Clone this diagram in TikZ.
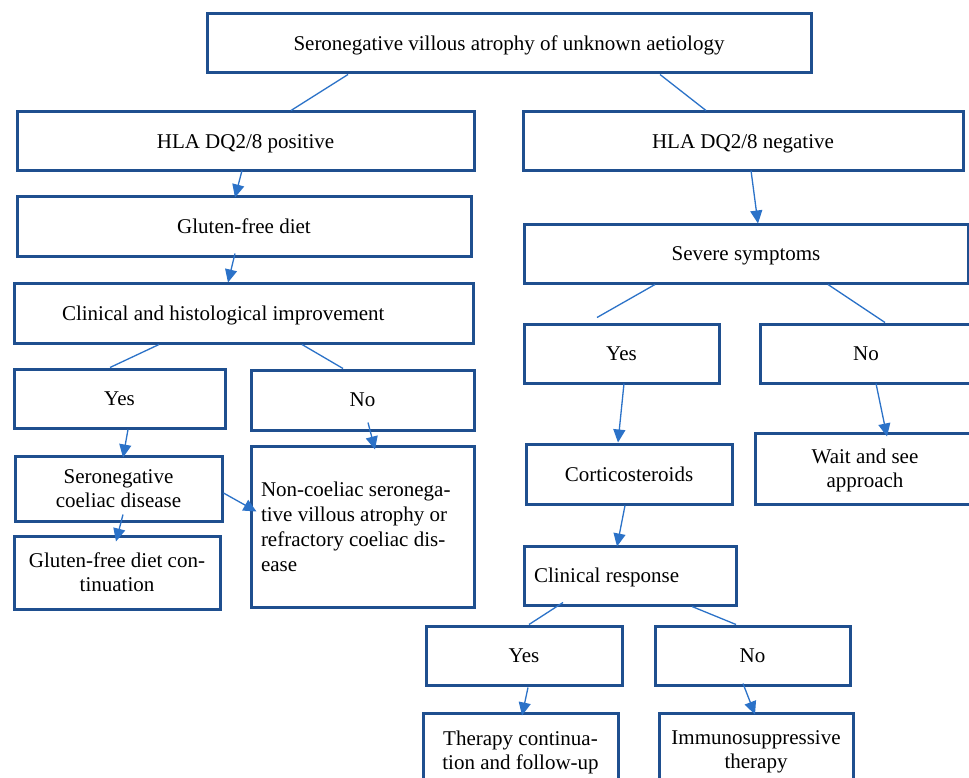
\documentclass[tikz,border=0pt]{standalone}
\usepackage{fontspec}
\setmainfont{Liberation Serif}
\usetikzlibrary{arrows.meta}
\definecolor{boxblue}{HTML}{1F4F8F}
\definecolor{linkblue}{HTML}{2B72C8}
\tikzset{
  box/.style={draw=boxblue, line width=3pt, inner sep=0pt, align=center,
    font=\fontsize{21}{24}\selectfont, text=black, text depth=0pt},
  link/.style={draw=linkblue, line width=1.3pt},
  arr/.style={link, -{Triangle[length=13pt,width=12pt]}},
}
\begin{document}
\begin{tikzpicture}[x=1pt,y=-1pt]
\useasboundingbox (0,0) rectangle (969,778);
\clip (0,0) rectangle (969,778);
\fill[white] (0,0) rectangle (969,778);
% left branch
\node[box, minimum width=604pt, minimum height=59pt] (top) at (509,43.5) {Seronegative villous atrophy of unknown aetiology};
\node[box, minimum width=457pt, minimum height=59pt] (pos) at (245.5,141.5) {HLA DQ2/8 positive};
\node[box, minimum width=454pt, minimum height=59pt] (gfd) at (244,226.5) {Gluten-free diet};
\node[box, minimum width=459pt, minimum height=60pt, text width=363pt, inner xsep=48pt, align=flush left] (imp) at (243.5,313) {Clinical and histological improvement};
\node[box, minimum width=211pt, minimum height=59pt] (yes1) at (119.5,398.5) {Yes};
\node[box, minimum width=223pt, minimum height=60pt] (no1) at (362.5,400) {No};
\node[box, minimum width=207pt, minimum height=65pt] (scd) at (118.5,488.5) {Seronegative\\coeliac disease};
\node[box, minimum width=223pt, minimum height=161pt, text width=203pt, inner xsep=10pt, align=flush left, font=\fontsize{21}{25}\selectfont, text depth=] (ncs) at (362.5,526.5) {Non-coeliac seronega-\\tive villous atrophy or\\refractory coeliac dis-\\ease};
\node[box, minimum width=206pt, minimum height=73pt] (gfdc) at (117,572.5) {Gluten-free diet con-\\tinuation};
% right branch
\node[box, minimum width=440pt, minimum height=59pt] (neg) at (743,141.5) {HLA DQ2/8 negative};
\node[box, minimum width=444pt, minimum height=58pt] (sev) at (746,254) {Severe symptoms};
\node[box, minimum width=195pt, minimum height=59pt] (yes2) at (621.5,353.5) {Yes};
\node[box, minimum width=212pt, minimum height=59pt] (no2) at (866,353.5) {No};
\node[box, minimum width=206pt, minimum height=60pt] (cort) at (629,474) {Corticosteroids};
\node[box, minimum width=220pt, minimum height=71pt] (wait) at (865,468.5) {Wait and see\\approach};
\node[box, minimum width=212pt, minimum height=59pt, text width=192pt, inner xsep=10pt, align=flush left] (cr) at (630,575.5) {Clinical response};
\node[box, minimum width=196pt, minimum height=59pt] (yes3) at (524,655.5) {Yes};
\node[box, minimum width=195pt, minimum height=59pt] (no3) at (752.5,655.5) {No};
\node[box, minimum width=195pt, minimum height=74pt] (ther) at (520.5,750) {Therapy continua-\\tion and follow-up};
\node[box, minimum width=194pt, minimum height=74pt] (imm) at (756,750) {Immunosuppressive\\therapy};
% connectors
\draw[link] ([xshift=-161pt]top.south) -- ([xshift=45.5pt]pos.north);
\draw[link] ([xshift=151pt]top.south) -- ([xshift=-37pt]neg.north);
\draw[arr] ([xshift=-3.5pt,yshift=2pt]pos.south) -- ([xshift=-9pt,yshift=-2pt]gfd.north);
\draw[arr] ([xshift=-9pt,yshift=4pt]gfd.south) -- ([xshift=-15.5pt,yshift=-1pt]imp.north);
\draw[link] ([xshift=-84.5pt]imp.south) -- ([xshift=-9.5pt]yes1.north);
\draw[link] ([xshift=58.5pt]imp.south) -- ([xshift=-19.5pt]no1.north);
\draw[arr] ([xshift=8.5pt]yes1.south) -- ([xshift=4.5pt,yshift=-3pt]scd.north);
\draw[arr] ([xshift=5.5pt,yshift=9pt]no1.south) -- ([xshift=12.5pt,yshift=-5pt]ncs.north);
\draw[arr] ([yshift=-4.5pt]scd.east) -- ([xshift=7pt,yshift=15pt]ncs.west);
\draw[arr] ([xshift=4.5pt,yshift=8pt]scd.south) -- ([xshift=-1pt,yshift=-7pt]gfdc.north);
\draw[arr] ([xshift=8pt,yshift=2pt]neg.south) -- ([xshift=12pt,yshift=0pt]sev.north);
\draw[link] ([xshift=-91pt]sev.south) -- ([xshift=-24.5pt,yshift=5pt]yes2.north);
\draw[link] ([xshift=82pt]sev.south) -- ([xshift=19pt]no2.north);
\draw[arr] ([xshift=2.5pt,yshift=1pt]yes2.south) -- ([xshift=-11pt]cort.north);
\draw[arr] ([xshift=10pt,yshift=1pt]no2.south) -- ([xshift=22pt,yshift=-5pt]wait.north);
\draw[arr] ([xshift=-4pt]cort.south) -- ([xshift=-13pt,yshift=-2pt]cr.north);
\draw[link] ([xshift=-67pt,yshift=4pt]cr.south) -- ([xshift=5pt]yes3.north);
\draw[link] ([xshift=62pt]cr.south) -- ([xshift=-16.5pt]no3.north);
\draw[arr] ([xshift=4pt,yshift=-1pt]yes3.south) -- ([xshift=1.5pt,yshift=-4pt]ther.north);
\draw[arr] ([xshift=-9.5pt,yshift=3pt]no3.south) -- ([xshift=-1pt,yshift=-3pt]imm.north);
\end{tikzpicture}
\end{document}
